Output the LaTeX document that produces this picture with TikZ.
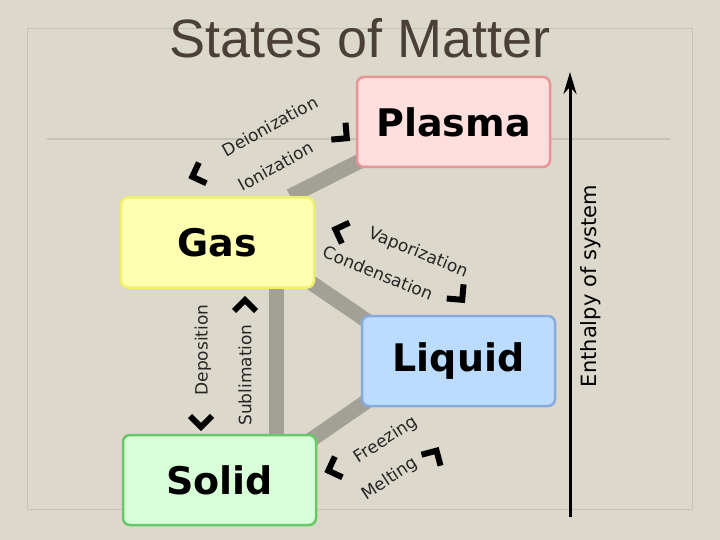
\documentclass[tikz,border=0pt]{standalone}
\usepackage{fontspec}
\setmainfont{DejaVu Sans}
\newfontfamily\titlefont{Liberation Sans}
\usetikzlibrary{arrows.meta}
\pgfdeclarelayer{back}
\pgfsetlayers{back,main}
\definecolor{bg}{HTML}{DCD8CC}
\definecolor{frame}{HTML}{C6C2B6}
\definecolor{link}{HTML}{A3A095}
\definecolor{titlec}{HTML}{4A4038}
\begin{document}
\begin{tikzpicture}[x=1pt,y=-1pt,
  state/.style={draw,line width=2.5pt,rounded corners=7pt,minimum width=193pt,minimum height=90pt,
    font=\fontsize{38}{40}\selectfont\bfseries,text=black},
  lbl/.style={font=\fontsize{17}{18}\selectfont,text=black!85,inner sep=0pt},
  link/.style={draw=link,line width=15pt},
  chev/.style={line width=6pt,line join=miter,line cap=butt}]
\begin{pgfonlayer}{back}
\fill[bg] (0,0) rectangle (720,540);
\draw[frame,line width=1pt] (27,29) rectangle (692,509);
\draw[frame,line width=2pt] (47,139) -- (670,139);
\end{pgfonlayer}
\useasboundingbox (0,0) rectangle (720,540);
\node[font=\titlefont\fontsize{54}{56}\selectfont,text=titlec] (title) at (360,38) {States of Matter};

\node[state,draw={rgb,255:red,230;green,150;blue,150},fill={rgb,255:red,255;green,222;blue,222}] (plasma) at (453.5,122) {Plasma};
\node[state,draw={rgb,255:red,240;green,240;blue,110},fill={rgb,255:red,255;green,255;blue,176}] (gas) at (217.5,242.5) {Gas};
\node[state,draw={rgb,255:red,136;green,170;blue,221},fill={rgb,255:red,187;green,220;blue,255}] (liquid) at (458.5,361) {Liquid};
\node[state,draw={rgb,255:red,102;green,200;blue,102},fill={rgb,255:red,216;green,255;blue,216}] (solid) at (219.5,480) {Solid};

\begin{pgfonlayer}{back}
\coordinate (gs) at (276,288);
\coordinate (ss) at (276,435);
\draw[link] ([xshift=-25pt]gas.north east) -- ([xshift=10pt,yshift=10pt]plasma.south west);
\draw[link] ([xshift=-10pt,yshift=10pt]gas.south east) -- ([xshift=12pt,yshift=-10pt]liquid.north west);
\draw[link] (gs) -- (ss);
\draw[link] ([xshift=12pt,yshift=10pt]liquid.south west) -- ([xshift=-12pt,yshift=-10pt]solid.north east);
\end{pgfonlayer}

\coordinate (abot) at (570,517);
\coordinate (atop) at (570,72);
\draw[line width=3pt,-{Stealth[length=22pt,width=13pt]}] (abot) -- (atop);
\node[rotate=90,font=\fontsize{21}{22}\selectfont] (enth) at (591,286) {Enthalpy of system};

\node[lbl,rotate=29] (deion) at (270,126) {Deionization};
\node[lbl,rotate=29] (ion) at (276,166) {Ionization};
\node[lbl,rotate=-22] (vap) at (418,253) {Vaporization};
\node[lbl,rotate=-22] (cond) at (378,273) {Condensation};
\node[lbl,rotate=90] (dep) at (203,350) {Deposition};
\node[lbl,rotate=90] (sub) at (245,375) {Sublimation};
\node[lbl,rotate=33] (frz) at (386,440) {Freezing};
\node[lbl,rotate=33] (melt) at (390,479) {Melting};

\foreach \px/\py/\ang in {343/135/-40, 197/175/200, 340/231/160, 459/296/-50, 245/305/90, 201/422/-90, 434/455/60, 333/469/200}
  \draw[chev,shift={(\px,\py)},rotate=\ang] (-6,-11) -- (5,0) -- (-6,11);
\end{tikzpicture}
\end{document}
